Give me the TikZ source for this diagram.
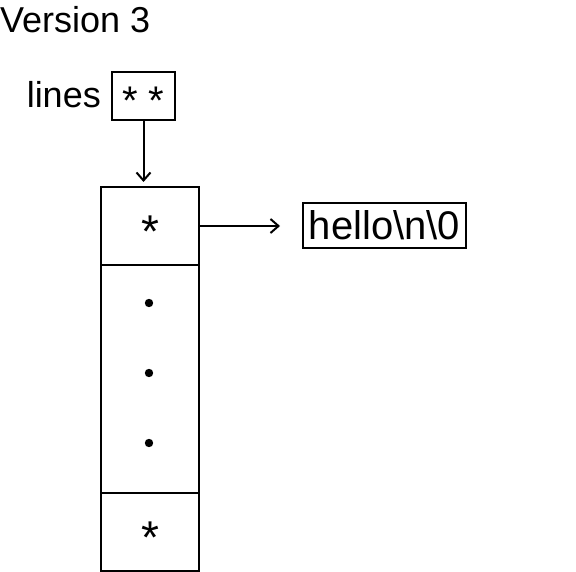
\documentclass[tikz,border=0pt]{standalone}
\usepackage{fontspec}
\setmainfont{Liberation Sans}
\usetikzlibrary{arrows.meta,positioning}

\newcommand{\ptr}[2][46]{{\fontsize{#1}{50}\selectfont\smash{\raisebox{-0.46em}{#2}}}}

\begin{document}
\begin{tikzpicture}[x=1pt, y=-1pt,
        every node/.style={font=\fontsize{36}{40}\selectfont},
        cell/.style={draw, line width=2pt, outer sep=0pt, inner sep=0pt, minimum width=98pt, minimum height=78pt},
        box/.style={draw, line width=2pt, inner sep=0pt},
        arrow/.style={-{Straight Barb[length=8pt, width=14pt]}, line width=2pt}
    ]
        \useasboundingbox (0,0) rectangle (576,572);
        \node[anchor=base west, inner sep=0pt] (title) at (0,33) {Version 3};
        \node[box, minimum width=63pt, minimum height=48pt] (lines) at (143.5,96) {\ptr[40]{*\hspace{11pt}*}};
        \node[anchor=base east, inner sep=0pt] (lineslbl) at (101,108) {lines};

        \node[cell] (first) at (150,226) {\ptr{*}};
        \node[cell, below=0pt of first, minimum height=228pt] (gap) {};
        \node[cell, below=0pt of gap] (last) {\ptr{*}};
        \foreach \dy in {76,6,-64}
            \fill ([yshift=\dy pt, xshift=-1pt]gap.center) circle (4.2pt);

        \node[box, minimum width=163pt, minimum height=45pt, font=\fontsize{40}{44}\selectfont] (str) at (384.5,225.5) {hello\textbackslash n\textbackslash 0};

        \draw[arrow, shorten >=5pt] (lines.south) -- (lines.south |- first.north);
        \draw[arrow, shorten >=22pt] (first.east) -- (first.east -| str.west);
    \end{tikzpicture}
\end{document}
